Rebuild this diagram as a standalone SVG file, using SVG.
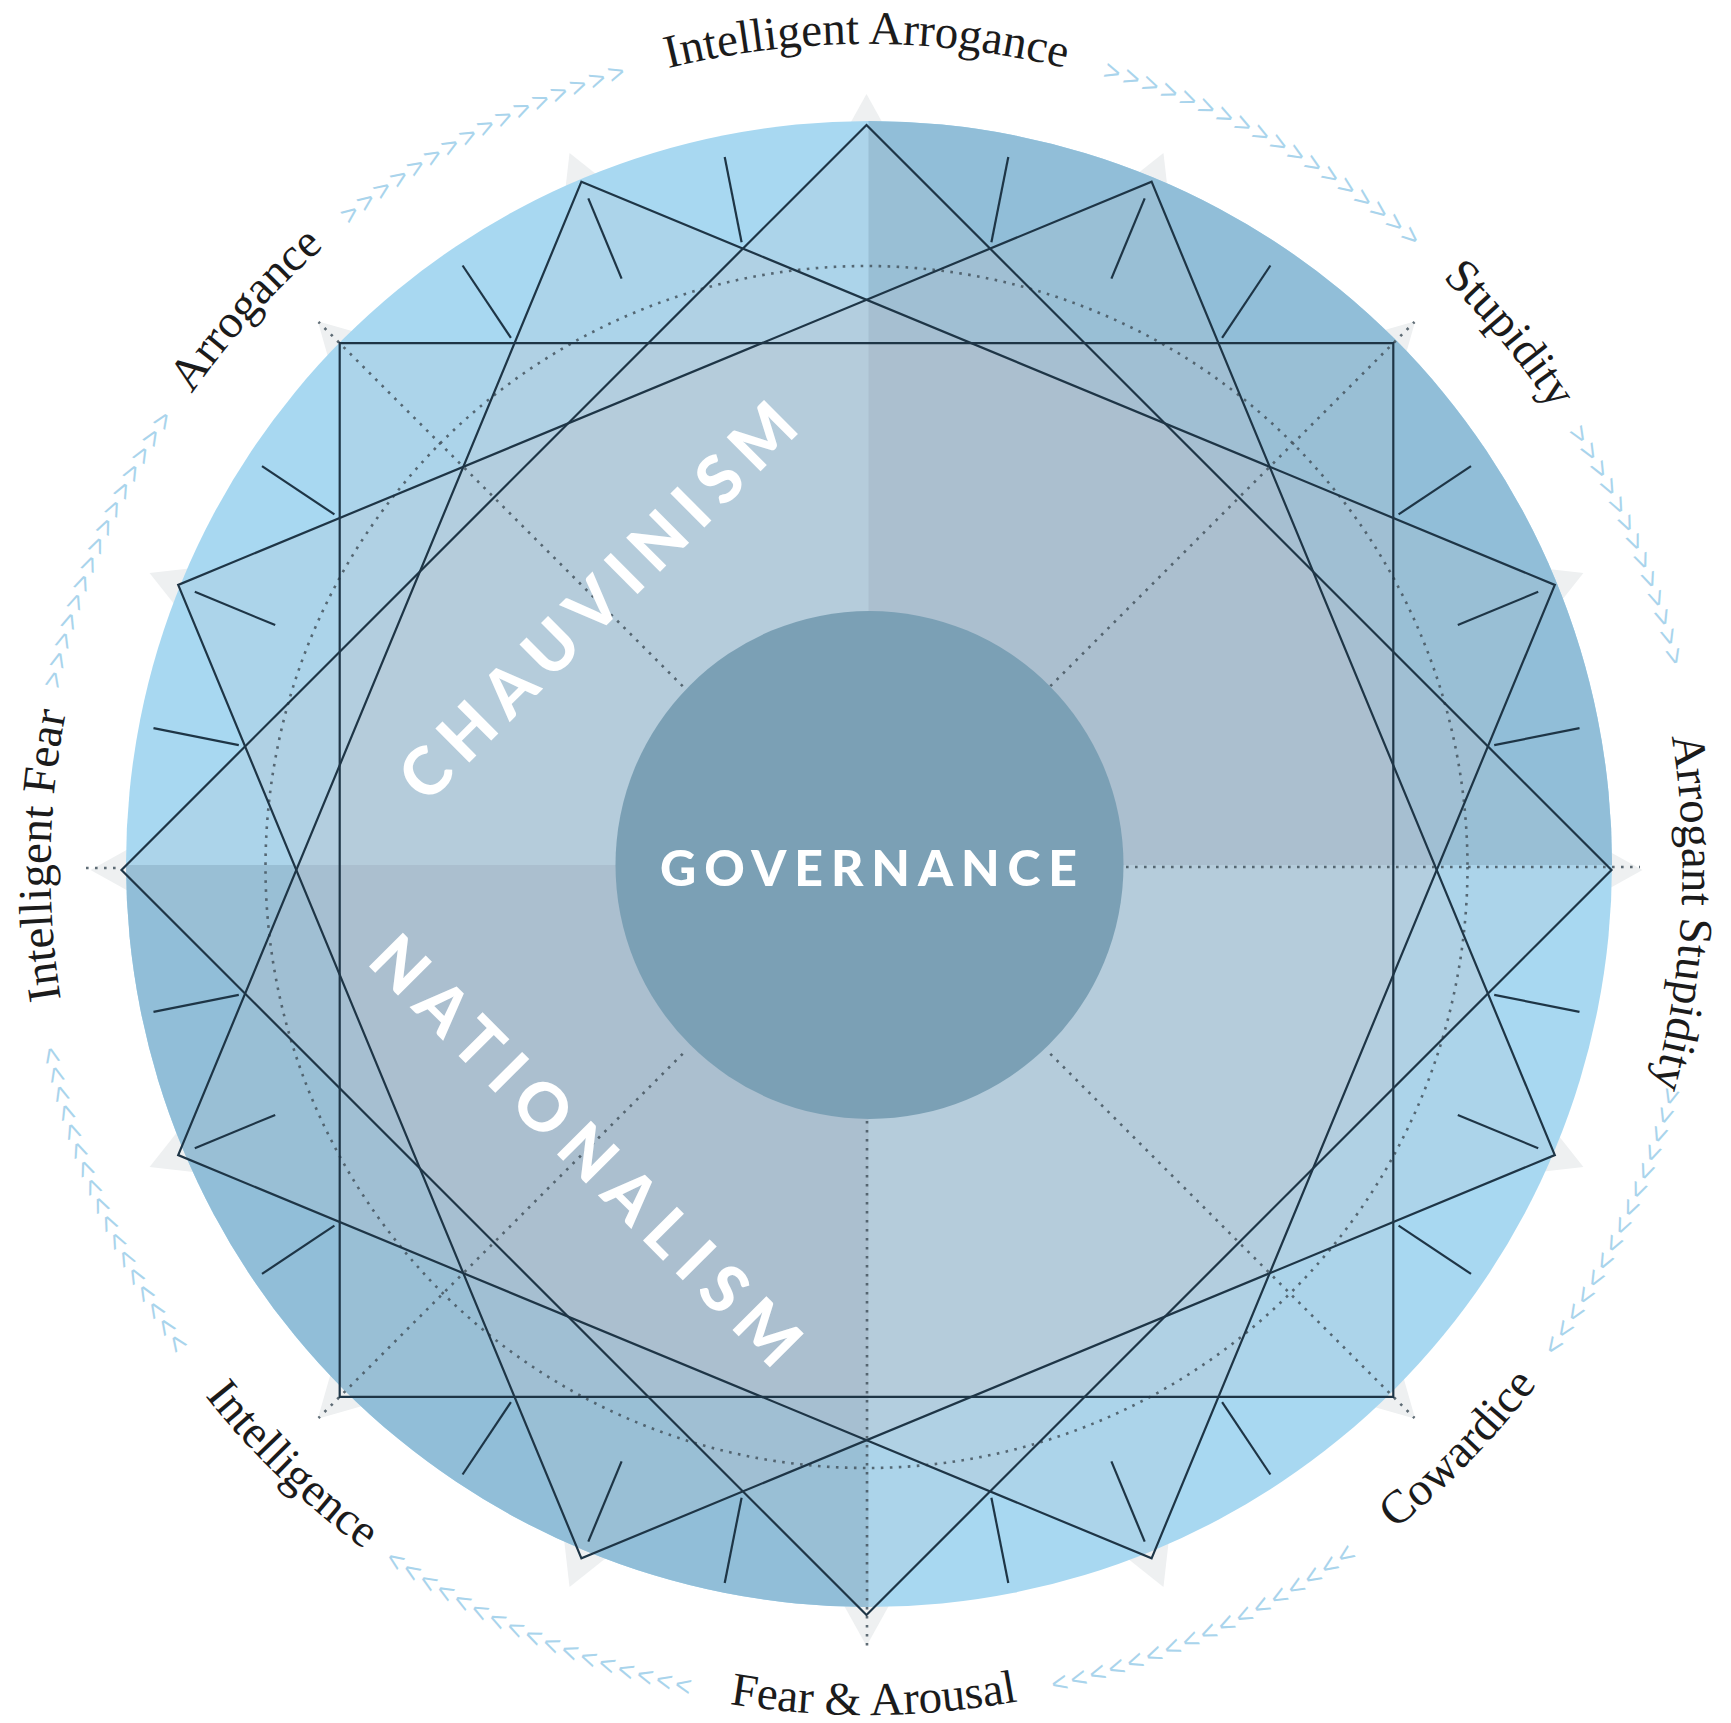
<svg xmlns="http://www.w3.org/2000/svg" xmlns:xlink="http://www.w3.org/1999/xlink" width="1731" height="1723" viewBox="0 0 1731 1723">
<style>
.line{fill:none;stroke:#1e3546;stroke-width:2.2;stroke-linejoin:miter}
.sq{fill:#c6c5c8;fill-opacity:0.17;stroke:none}
.dot{fill:none;stroke:#44535e;stroke-width:2.6;stroke-dasharray:2.6 6.4;stroke-opacity:0.85}
.lbl{font-family:"Liberation Serif","DejaVu Serif",serif;font-size:47px;fill:#1b1b1b}
.chev{font-family:"Liberation Sans","DejaVu Sans",sans-serif;font-size:28px;fill:#a9d4ec;letter-spacing:3.6px}
.big{font-family:Lato,"Open Sans",sans-serif;font-weight:900;fill:#ffffff}
.shade{fill:#eef0f1}
</style>
<defs>
<clipPath id="discClip"><circle cx="869" cy="864" r="743"/></clipPath>
<path id="pTop" d="M 866.5,1696 A 826 826 0 1 1 866.5,44 A 826 826 0 1 1 866.5,1696"/>
<path id="pSide" d="M 866.5,1686 A 816 816 0 1 1 866.5,54 A 816 816 0 1 1 866.5,1686"/>
<path id="pBot" d="M 866.5,25 A 845 845 0 1 0 866.5,1715 A 845 845 0 1 0 866.5,25"/>
<g id="ticks">
<line x1="124.9" y1="-627.7" x2="141.8" y2="-713.0"/>
<line x1="244.9" y1="-591.3" x2="278.2" y2="-671.7"/>
<line x1="355.6" y1="-532.1" x2="403.9" y2="-604.5"/>
<line x1="532.1" y1="-355.6" x2="604.5" y2="-403.9"/>
<line x1="591.3" y1="-244.9" x2="671.7" y2="-278.2"/>
<line x1="627.7" y1="-124.9" x2="713.0" y2="-141.8"/>
</g>
<polygon id="tri" points="-30,-722 30,-722 0,-776"/>
</defs>
<rect width="1731" height="1723" fill="#ffffff"/>
<g id="shadows" class="shade" transform="translate(866.5 870)">
<use xlink:href="#tri"/>
<use xlink:href="#tri" transform="rotate(22.5)"/>
<use xlink:href="#tri" transform="rotate(45)"/>
<use xlink:href="#tri" transform="rotate(67.5)"/>
<use xlink:href="#tri" transform="rotate(90)"/>
<use xlink:href="#tri" transform="rotate(112.5)"/>
<use xlink:href="#tri" transform="rotate(135)"/>
<use xlink:href="#tri" transform="rotate(157.5)"/>
<use xlink:href="#tri" transform="rotate(180)"/>
<use xlink:href="#tri" transform="rotate(202.5)"/>
<use xlink:href="#tri" transform="rotate(225)"/>
<use xlink:href="#tri" transform="rotate(247.5)"/>
<use xlink:href="#tri" transform="rotate(270)"/>
<use xlink:href="#tri" transform="rotate(292.5)"/>
<use xlink:href="#tri" transform="rotate(315)"/>
<use xlink:href="#tri" transform="rotate(337.5)"/>
</g>
<g id="disc">
<circle cx="869" cy="864" r="743" fill="#a8d8f1"/>
<g clip-path="url(#discClip)" fill="#91bed8">
<rect x="868.5" y="100" width="760" height="765"/>
<rect x="100" y="865" width="768.5" height="760"/>
</g>
<g clip-path="url(#discClip)">
<g transform="translate(866.5 870)">
<path class="sq" d="M -526.8,-526.8 H 526.8 V 526.8 H -526.8 Z"/>
<path class="sq" d="M 0,-745 L 745,0 L 0,745 L -745,0 Z"/>
<path class="sq" d="M 285.1,-688.3 L 688.3,285.1 L -285.1,688.3 L -688.3,-285.1 Z"/>
<path class="sq" d="M -285.1,-688.3 L 688.3,-285.1 L 285.1,688.3 L -688.3,285.1 Z"/>
</g>
</g>
</g>
<g id="governance">
<circle cx="869.5" cy="865" r="254" fill="#7ba0b5"/>
</g>
<g id="guides">
<circle class="dot" cx="866.5" cy="867" r="601"/>
<line class="dot" x1="682.7" y1="686.2" x2="318.5" y2="322"/>
<line class="dot" x1="1050.3" y1="686.2" x2="1414.5" y2="322"/>
<line class="dot" x1="1050.3" y1="1053.8" x2="1414.5" y2="1418"/>
<line class="dot" x1="682.7" y1="1053.8" x2="318.5" y2="1418"/>
<line class="dot" x1="1126" y1="867" x2="1640" y2="867"/>
<line class="dot" x1="867" y1="1121" x2="867" y2="1652"/>
<line class="dot" x1="86" y1="868" x2="121" y2="868"/>
</g>
<g id="star" class="line" transform="translate(866.5 870)">
<path d="M -526.8,-526.8 H 526.8 V 526.8 H -526.8 Z"/>
<path d="M 0,-745 L 745,0 L 0,745 L -745,0 Z"/>
<path d="M 285.1,-688.3 L 688.3,285.1 L -285.1,688.3 L -688.3,-285.1 Z"/>
<path d="M -285.1,-688.3 L 688.3,-285.1 L 285.1,688.3 L -688.3,285.1 Z"/>
<use xlink:href="#ticks"/>
<use xlink:href="#ticks" transform="rotate(90)"/>
<use xlink:href="#ticks" transform="rotate(180)"/>
<use xlink:href="#ticks" transform="rotate(270)"/>
</g>
<g id="governance-label">
<text class="big" x="868.5" y="886" font-size="50" text-anchor="middle" textLength="417" lengthAdjust="spacing">GOVERNANCE</text>
</g>
<g id="chauvinism">
<text class="big" transform="translate(614.1 617.6) rotate(-45)" font-size="66" text-anchor="middle" textLength="530" lengthAdjust="spacing">CHAUVINISM</text>
</g>
<g id="nationalism">
<text class="big" transform="translate(569.5 1167) rotate(45)" font-size="66" text-anchor="middle" textLength="577" lengthAdjust="spacing">NATIONALISM</text>
</g>
<g id="connectors">
<text class="chev" text-anchor="middle"><textPath xlink:href="#pTop" startOffset="31.39%">&gt;&gt;&gt;&gt;&gt;&gt;&gt;&gt;&gt;&gt;&gt;&gt;&gt;&gt;&gt;</textPath></text>
<text class="chev" text-anchor="middle"><textPath xlink:href="#pTop" startOffset="42.31%">&gt;&gt;&gt;&gt;&gt;&gt;&gt;&gt;&gt;&gt;&gt;&gt;&gt;&gt;&gt;&gt;</textPath></text>
<text class="chev" text-anchor="middle"><textPath xlink:href="#pTop" startOffset="58.06%">&gt;&gt;&gt;&gt;&gt;&gt;&gt;&gt;&gt;&gt;&gt;&gt;&gt;&gt;&gt;&gt;&gt;&gt;</textPath></text>
<text class="chev" text-anchor="middle"><textPath xlink:href="#pTop" startOffset="68.61%">&gt;&gt;&gt;&gt;&gt;&gt;&gt;&gt;&gt;&gt;&gt;&gt;&gt;</textPath></text>
<text class="chev" text-anchor="middle"><textPath xlink:href="#pBot" startOffset="68.03%">&lt;&lt;&lt;&lt;&lt;&lt;&lt;&lt;&lt;&lt;&lt;&lt;&lt;&lt;&lt;</textPath></text>
<text class="chev" text-anchor="middle"><textPath xlink:href="#pBot" startOffset="56.75%">&lt;&lt;&lt;&lt;&lt;&lt;&lt;&lt;&lt;&lt;&lt;&lt;&lt;&lt;&lt;&lt;&lt;</textPath></text>
<text class="chev" text-anchor="middle"><textPath xlink:href="#pBot" startOffset="43.51%">&lt;&lt;&lt;&lt;&lt;&lt;&lt;&lt;&lt;&lt;&lt;&lt;&lt;&lt;&lt;&lt;&lt;</textPath></text>
<text class="chev" text-anchor="middle"><textPath xlink:href="#pBot" startOffset="31.60%">&lt;&lt;&lt;&lt;&lt;&lt;&lt;&lt;&lt;&lt;&lt;&lt;&lt;&lt;&lt;&lt;&lt;</textPath></text>
</g>
<g id="label-intelligent-fear"><text class="lbl" text-anchor="middle"><textPath xlink:href="#pSide" startOffset="25.28%">Intelligent Fear</textPath></text></g>
<g id="label-arrogance"><text class="lbl" text-anchor="middle"><textPath xlink:href="#pTop" startOffset="36.69%">Arrogance</textPath></text></g>
<g id="label-intelligent-arrogance"><text class="lbl" text-anchor="middle"><textPath xlink:href="#pTop" startOffset="50%">Intelligent Arrogance</textPath></text></g>
<g id="label-stupidity"><text class="lbl" text-anchor="middle"><textPath xlink:href="#pTop" startOffset="63.94%">Stupidity</textPath></text></g>
<g id="label-arrogant-stupidity"><text class="lbl" text-anchor="middle"><textPath xlink:href="#pSide" startOffset="75.83%">Arrogant Stupidity</textPath></text></g>
<g id="label-cowardice"><text class="lbl" text-anchor="middle"><textPath xlink:href="#pBot" startOffset="62.67%">Cowardice</textPath></text></g>
<g id="label-fear-arousal"><text class="lbl" text-anchor="middle"><textPath xlink:href="#pBot" startOffset="50.14%">Fear &amp; Arousal</textPath></text></g>
<g id="label-intelligence"><text class="lbl" text-anchor="middle"><textPath xlink:href="#pBot" startOffset="37.78%">Intelligence</textPath></text></g>
</svg>
